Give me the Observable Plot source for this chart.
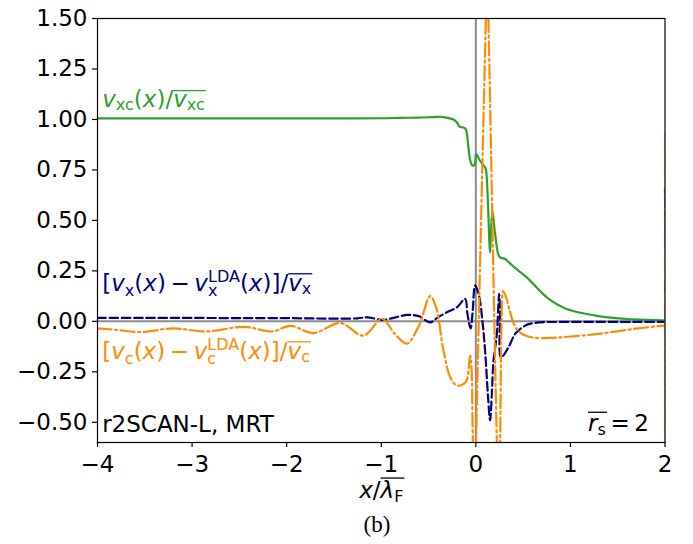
<!DOCTYPE html>
<html><head><meta charset="utf-8">
<script src="https://cdn.jsdelivr.net/npm/d3@7"></script>
<script src="https://cdn.jsdelivr.net/npm/@observablehq/plot@0.6"></script>
<style>
body{margin:0;background:#fff;width:693px;height:544px;position:relative;overflow:hidden;}
#cap{position:absolute;left:377px;top:508px;transform:translateX(-50%);font:23px "Liberation Serif","Times New Roman",serif;line-height:34px;color:#000;}
</style></head><body><div id="chart"></div><div id="cap">(b)</div>
<script>
// ---- data ----
const xTicks = [-4, -3, -2, -1, 0, 1, 2];
const yTicks = [-0.5, -0.25, 0, 0.25, 0.5, 0.75, 1, 1.25, 1.5];

// v_xc(x)/mean v_xc  (green, solid)
const xcX = [-4, -3.5, -3, -2.5, -2, -1.5, -1.0, -0.8, -0.6, -0.45, -0.377, -0.3, -0.237, -0.2, -0.173, -0.131, -0.11, -0.095, -0.078, -0.06, -0.042, -0.018, -0.005, 0.003, 0.045, 0.098, 0.109, 0.127, 0.144, 0.151, 0.158, 0.175, 0.204, 0.25, 0.31, 0.344, 0.408, 0.539, 0.75, 0.961, 1.313, 1.662, 1.979, 2.0, 2.0];
const xcY = [1.005, 1.005, 1.005, 1.005, 1.005, 1.005, 1.006, 1.008, 1.009, 1.012, 1.013, 1.008, 1.0, 0.985, 0.965, 0.96, 0.955, 0.93, 0.861, 0.80, 0.775, 0.772, 0.79, 0.829, 0.795, 0.762, 0.745, 0.6, 0.38, 0.342, 0.42, 0.548, 0.433, 0.32, 0.309, 0.295, 0.267, 0.218, 0.119, 0.061, 0.025, 0.010, 0.005, 0.005, 0.2];

// [v_x - v_x^LDA]/mean v_x  (navy, dashed)
const vxX = [-4, -3.5, -3, -2.5, -2, -1.6, -1.25, -1.15, -0.98, -0.85, -0.72, -0.6, -0.483, -0.4, -0.306, -0.201, -0.113, -0.089, -0.055, -0.035, -0.007, 0.02, 0.045, 0.07, 0.098, 0.13, 0.151, 0.17, 0.186, 0.222, 0.246, 0.256, 0.267, 0.344, 0.415, 0.468, 0.55, 0.679, 0.89, 1.3, 1.7, 1.995, 2.0, 2.0];
const vxY = [0.017, 0.017, 0.017, 0.016, 0.016, 0.014, 0.015, 0.02, 0.007, 0.02, 0.032, 0.025, -0.005, 0.02, 0.045, 0.069, 0.111, 0.037, -0.035, 0.04, 0.177, 0.15, 0.10, 0.0, -0.145, -0.38, -0.49, -0.35, -0.2, -0.062, 0.136, 0.05, -0.178, -0.129, -0.062, -0.038, -0.015, -0.005, -0.003, -0.003, -0.003, -0.003, -0.003, 0.65];

// [v_c - v_c^LDA]/mean v_c  (dark orange, dash-dot)
const vcX = [-4, -3.8, -3.55, -3.2, -2.85, -2.45, -2.15, -1.96, -1.72, -1.43, -1.19, -0.99, -0.86, -0.73, -0.6, -0.483, -0.42, -0.342, -0.27, -0.2, -0.13, -0.095, -0.06, -0.045, -0.035, -0.025, -0.012, 0.0, 0.106, 0.12, 0.133, 0.222, 0.24, 0.257, 0.272, 0.29, 0.32, 0.36, 0.42, 0.5, 0.6, 0.8, 1.0, 1.3, 1.66, 1.98, 2.0, 2.0, 2.0];
const vcY = [-0.035, -0.042, -0.053, -0.035, -0.05, -0.027, -0.05, -0.022, -0.058, -0.008, -0.071, 0.012, -0.06, -0.11, -0.02, 0.125, 0.069, -0.145, -0.277, -0.318, -0.31, -0.29, -0.17, -0.24, -0.5, -0.75, -0.95, -0.65, 1.5, 1.75, 1.5, -0.6, -0.9, -0.6, 0.0, 0.15, 0.12, 0.05, -0.03, -0.065, -0.08, -0.082, -0.075, -0.062, -0.038, -0.021, -0.02, 0.936, -0.7];

// label texts (rich segments: i = italic, sub/sup = script, o = overline group)
const labelXC = [{s:"v",i:1},{s:"xc",sub:3},{s:"("},{s:"x",i:1},{s:")/"},{s:"v",i:1,o:1},{s:"xc",sub:3,o:1}];
const labelVX = [{s:"["},{s:"v",i:1},{s:"x",sub:5},{s:"("},{s:"x",i:1},{s:")\u2009\u2212\u2009"},{s:"v",i:1},{s:"x",sub:5},{s:"LDA",sup:9,back:1},{s:"("},{s:"x",i:1},{s:")]/"},{s:"v",i:1,o:1},{s:"x",sub:3,o:1}];
const labelVC = [{s:"["},{s:"v",i:1},{s:"c",sub:5},{s:"("},{s:"x",i:1},{s:")\u2009\u2212\u2009"},{s:"v",i:1},{s:"c",sub:5},{s:"LDA",sup:9,back:1},{s:"("},{s:"x",i:1},{s:")]/"},{s:"v",i:1,o:1},{s:"c",sub:3,o:1}];
const labelRS = [{s:"r",i:1,o:1},{s:"s",sub:4,o:1},{s:"\u2009=\u20092"}];
const labelXL = [{s:"x",i:1},{s:"/"},{s:"λ",i:1,o:1},{s:"F",sub:4,o:1}];
const labelMethod = "r2SCAN-L, MRT";

const C_XC = "#2ca02c", C_VX = "#000080", C_VC = "#ff8c00";

const toRows = (X, Y) => X.map((x, k) => ({x, y: Y[k]}));
const plain = segs => segs.map(d => d.s).join("");
const rich = new Map([
  [plain(labelXC), {segs: labelXC, h: 0.73}],
  [plain(labelVX), {segs: labelVX, h: 0.73}],
  [plain(labelVC), {segs: labelVC, h: 0.73}],
  [plain(labelRS), {segs: labelRS, h: 0.8}],
  [plain(labelXL), {segs: labelXL, h: 0.86}]
]);
const fmt = (d, k) => (d < 0 ? "\u2212" : "") + Math.abs(d).toFixed(k);
const lw = 2.2;

const plot = Plot.plot({
  width: 693, height: 510,
  marginLeft: 97, marginRight: 28.5, marginTop: 18, marginBottom: 68,
  x: {domain: [-4, 2], axis: null},
  y: {domain: [-0.6, 1.5], axis: null},
  style: {fontFamily: "DejaVu Sans", fontSize: "23px", color: "black", background: "white"},
  marks: [
    Plot.ruleY([0], {stroke: "#8c8c8c", strokeWidth: 2}),
    Plot.ruleX([0], {stroke: "#8c8c8c", strokeWidth: 2}),
    Plot.line(toRows(xcX, xcY), {x: "x", y: "y", stroke: C_XC, strokeWidth: lw, curve: "catmull-rom", clip: true}),
    Plot.line(toRows(vxX, vxY), {x: "x", y: "y", stroke: C_VX, strokeWidth: lw, strokeDasharray: "8.5,3.7", curve: "catmull-rom", clip: true}),
    Plot.line(toRows(vcX, vcY), {x: "x", y: "y", stroke: C_VC, strokeWidth: lw, strokeDasharray: "14,3.5,2.2,3.5", curve: "catmull-rom", clip: true}),
    Plot.frame({stroke: "black", strokeWidth: 1.2}),
    Plot.axisX({ticks: xTicks, tickFormat: d => fmt(d, 0), tickSize: 5, tickPadding: 8, label: null, strokeWidth: 1.2}),
    Plot.axisY({ticks: yTicks, tickFormat: d => fmt(d, 2), tickSize: 5, tickPadding: 5, label: null, strokeWidth: 1.2}),
    Plot.text([{x: -3.95, y: 1.096, t: plain(labelXC)}], {x: "x", y: "y", text: "t", fill: C_XC, textAnchor: "start", fontSize: 23}),
    Plot.text([{x: -3.95, y: 0.189, t: plain(labelVX)}], {x: "x", y: "y", text: "t", fill: C_VX, textAnchor: "start", fontSize: 23}),
    Plot.text([{x: -3.95, y: -0.148, t: plain(labelVC)}], {x: "x", y: "y", text: "t", fill: C_VC, textAnchor: "start", fontSize: 23}),
    Plot.text([{x: -3.951, y: -0.513, t: labelMethod}], {x: "x", y: "y", text: "t", fill: "black", textAnchor: "start", fontSize: 23}),
    Plot.text([{x: 1.83, y: -0.505, t: plain(labelRS)}], {x: "x", y: "y", text: "t", fill: "black", textAnchor: "end", fontSize: 23}),
    Plot.text([plain(labelXL)], {frameAnchor: "bottom", lineAnchor: "middle", text: d => d, dy: 48, fill: "black", fontSize: 23})
  ]
});
document.getElementById("chart").appendChild(plot);

// build rich (math-like) text
const NS = "http://www.w3.org/2000/svg";
plot.querySelectorAll("text").forEach(t => {
  const spec = rich.get(t.textContent);
  if (!spec) return;
  t.textContent = "";
  let cur = 0, prev = null;
  const groups = {};
  const fill = t.getAttribute("fill") || (t.parentNode && t.parentNode.getAttribute("fill")) || "black";
  spec.segs.forEach(seg => {
    const ts = document.createElementNS(NS, "tspan");
    ts.textContent = seg.s;
    if (seg.i) ts.setAttribute("font-style", "italic");
    const small = seg.sub || seg.sup;
    ts.setAttribute("font-size", small ? 16 : 23);
    const target = seg.sub ? seg.sub : seg.sup ? -seg.sup : 0;
    if (target !== cur) ts.setAttribute("dy", target - cur);
    cur = target;
    t.appendChild(ts);
    if (seg.back && prev) ts.setAttribute("dx", -prev.getComputedTextLength());
    if (seg.o) (groups[seg.o] = groups[seg.o] || []).push(ts);
    prev = ts;
  });
  Object.values(groups).forEach(g => {
    const a = g[0], b = g[g.length - 1];
    const p1 = a.getStartPositionOfChar(0);
    const p2 = b.getEndPositionOfChar(b.textContent.length - 1);
    const ln = document.createElementNS(NS, "line");
    const yy = p1.y - spec.h * 23;
    ln.setAttribute("x1", p1.x); ln.setAttribute("x2", p2.x + 1);
    ln.setAttribute("y1", yy); ln.setAttribute("y2", yy);
    ln.setAttribute("stroke", fill); ln.setAttribute("stroke-width", 1.3);
    const tr = t.getAttribute("transform");
    if (tr) ln.setAttribute("transform", tr);
    t.parentNode.appendChild(ln);
  });
});
</script></body></html>
